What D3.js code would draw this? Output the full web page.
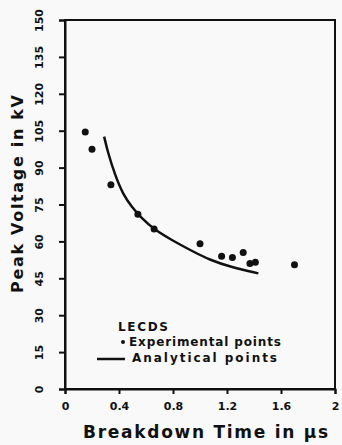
<!DOCTYPE html>
<html>
<head>
<meta charset="utf-8">
<script src="https://cdn.jsdelivr.net/npm/d3@7"></script>
<style>
  body { margin: 0; background: #f9f9f9; }
  svg { display: block; }
  text { font-family: "DejaVu Sans", sans-serif; font-weight: bold; fill: #111; }
</style>
</head>
<body>
<div id="chart"></div>
<script>
// experimental points (breakdown time in us, peak voltage in kV)
const expTime = [0.15, 0.2, 0.34, 0.54, 0.66, 1.0, 1.16, 1.24, 1.32, 1.37, 1.41, 1.7];
const expVolt = [104.5, 97.5, 83, 71, 65, 59, 54, 53.5, 55.5, 51, 51.5, 50.5];

// analytical curve
const anaTime = [0.29, 0.316, 0.37, 0.432, 0.494, 0.568, 0.667, 0.79, 0.926, 1.074, 1.222, 1.432];
const anaVolt = [102.6, 96.5, 87, 78.9, 74.1, 69.4, 64.6, 60.6, 56.5, 52.4, 49.7, 47];

const xTicks = [0, 0.4, 0.8, 1.2, 1.6, 2];
const xTickLabels = ['0', '0.4', '0.8', '1.2', '1.6', '2'];
const yTicks = [0, 15, 30, 45, 60, 75, 90, 105, 120, 135, 150];

const width = 342, height = 445;

const svg = d3.select('#chart')
  .append('svg')
    .attr('width', width)
    .attr('height', height);

const x = d3.scaleLinear().domain([0, 2]).range([65, 335]);
const y = d3.scaleLinear().domain([0, 150]).range([389, 20]);

// frame
svg.append('rect')
  .attr('x', x(0))
  .attr('y', y(150))
  .attr('width', x(2) - x(0))
  .attr('height', y(0) - y(150))
  .attr('fill', 'none')
  .attr('stroke', '#111')
  .attr('stroke-width', 2);

// x axis
const gx = svg.append('g')
  .attr('transform', `translate(0, ${y(0)})`)
  .call(d3.axisBottom(x).tickValues(xTicks).tickSize(5).tickFormat((d, i) => xTickLabels[i]));
gx.select('.domain').attr('stroke-width', 2).attr('stroke', '#111');
gx.selectAll('.tick line').attr('stroke-width', 2).attr('stroke', '#111');
gx.selectAll('.tick text')
  .attr('y', 13)
  .style('font-size', '11px')
  .style('font-family', '"DejaVu Sans", sans-serif');

// y axis, labels turned like the title
const gy = svg.append('g')
  .attr('transform', `translate(${x(0)}, 0)`)
  .call(d3.axisLeft(y).tickValues(yTicks).tickSize(6));
gy.select('.domain').attr('stroke-width', 2).attr('stroke', '#111');
gy.selectAll('.tick line').attr('stroke-width', 2).attr('stroke', '#111');
gy.selectAll('.tick text')
  .attr('transform', 'rotate(-90)')
  .attr('x', 0)
  .attr('y', -22)
  .attr('dy', null)
  .attr('text-anchor', 'middle')
  .style('font-size', '11px')
  .style('font-family', '"DejaVu Sans", sans-serif');

// analytical curve
const line = d3.line()
  .x((d, i) => x(anaTime[i]))
  .y((d, i) => y(anaVolt[i]))
  .curve(d3.curveBasis);

svg.append('path')
  .datum(anaTime)
  .attr('d', line)
  .attr('fill', 'none')
  .attr('stroke', '#111')
  .attr('stroke-width', 2.5);

// experimental dots
svg.selectAll('circle.exp')
  .data(expTime)
  .join('circle')
    .attr('class', 'exp')
    .attr('cx', d => x(d))
    .attr('cy', (d, i) => y(expVolt[i]))
    .attr('r', 3.5)
    .attr('fill', '#111');

// legend
svg.append('text')
  .attr('x', 118).attr('y', 331)
  .attr('textLength', 50)
  .style('font-size', '12px')
  .text('LECDS');

svg.append('circle')
  .attr('cx', 123).attr('cy', 342).attr('r', 2).attr('fill', '#111');
svg.append('text')
  .attr('x', 129).attr('y', 346)
  .attr('textLength', 152)
  .style('font-size', '12px')
  .text('Experimental points');

svg.append('line')
  .attr('x1', 97).attr('x2', 125).attr('y1', 359).attr('y2', 359)
  .attr('stroke', '#111').attr('stroke-width', 2.5);
svg.append('text')
  .attr('x', 132).attr('y', 362)
  .attr('textLength', 145)
  .style('font-size', '12px')
  .text('Analytical points');

// axis titles
svg.append('text')
  .attr('x', 83).attr('y', 438)
  .attr('textLength', 245)
  .style('font-size', '17px')
  .text('Breakdown Time in \u03bcs');

svg.append('text')
  .attr('transform', 'translate(23, 194) rotate(-90)')
  .attr('text-anchor', 'middle')
  .attr('textLength', 198)
  .style('font-size', '16px')
  .text('Peak Voltage in kV');
</script>
</body>
</html>
